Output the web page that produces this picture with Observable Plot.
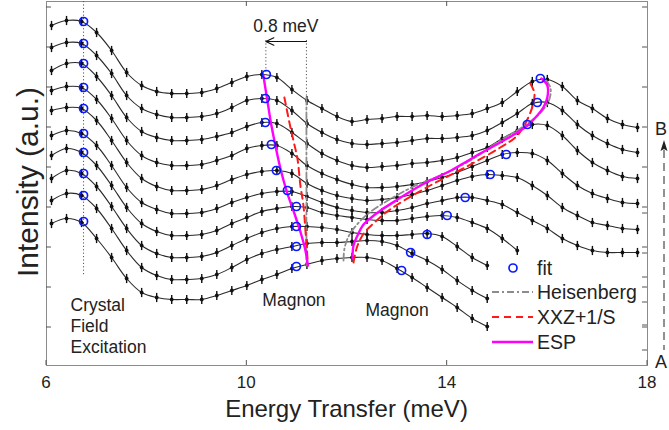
<!DOCTYPE html>
<html><head><meta charset="utf-8">
<script src="https://cdn.jsdelivr.net/npm/d3@7"></script>
<script src="https://cdn.jsdelivr.net/npm/@observablehq/plot@0.6"></script>
<style>
body{margin:0;background:#fff;}
#chart svg{display:block;}
</style></head><body><div id="chart"></div>
<script>
// Energy grid of the scans (meV)
const energy = [6.1,6.4,6.7,7.0,7.3,7.6,7.9,8.2,8.5,8.8,9.1,9.4,9.7,10.0,10.3,10.6,10.9,11.2,11.5,11.8,12.1,12.4,12.7,13.0,13.3,13.6,13.9,14.2,14.5,14.8,15.1,15.4,15.7,16.0,16.3,16.6,16.9,17.2,17.5,17.8];

// Offset intensity scans (a.u.), top scan first
const scan0 = [342,347,346,335,317,295,282,276,274,274,275,279,285,291,293,290,278,267,259,251,246,248,249,251,251,252,251,252,254,259,265,276,286,288,281,267,259,249,243,240];
const scan1 = [320,325,324,312,294,272,259,253,250,250,251,254,260,267,269,267,257,244,235,228,224,223,224,225,227,229,229,230,232,237,245,254,264,265,257,243,232,224,218,215];
const scan2 = [297,304,304,291,272,250,236,230,227,227,228,231,235,241,245,244,235,224,214,207,202,200,201,202,204,205,207,210,215,220,229,237,243,242,232,217,205,197,191,189];
const scan3 = [277,281,280,268,249,227,212,205,202,202,203,207,212,219,222,222,214,202,194,188,183,180,180,181,183,186,190,195,201,207,213,215,214,207,194,182,174,169,165,164];
const scan4 = [257,260,259,247,227,205,189,181,177,177,178,182,188,193,196,197,194,184,177,172,169,167,168,170,173,177,182,187,191,193,192,190,182,172,160,152,145,142,139,138];
const scan5 = [232,237,234,222,202,180,165,158,154,154,155,159,165,170,174,176,176,171,165,160,157,155,155,157,160,164,167,170,170,167,163,155,147,139,129,122,117,115,115,115];
const scan6 = [212,219,215,202,182,160,144,136,132,132,133,137,144,150,156,159,161,160,155,152,150,148,147,147,149,151,152,150,145,139,129,117];
const scan7 = [189,197,194,181,161,139,122,114,110,110,111,115,122,129,135,139,141,141,140,138,135,133,132,132,133,134,131,121,110,102];
const scan8 = [167,174,172,159,139,117,100,92,88,88,89,93,100,108,114,118,121,124,125,125,126,127,126,122,114,107,98,87,77,69];
const scan9 = [144,149,145,129,110,89,75,70,68,68,68,72,77,82,88,93,99,103,107,109,110,110,107,99,90,80,70,60,49,41];

// Fitted peak positions
const cfEnergy = [6.74,6.74,6.74,6.74,6.74,6.74,6.74,6.74,6.74,6.74];
const cfFit = [346,324,304,280,259,234,215,194,172,146];
const m1Energy = [10.39,10.37,10.37,10.49,10.59,10.81,10.99,10.99,10.99,10.99];
const m1Fit = [293,269,245,223,197,177,161,141,121,101];
const m2Energy = [15.86,15.80,15.60,15.18,14.86,14.36,14.00,13.60,13.27,13.09];
const m2Fit = [289,265,243,213,193,170,152,133,115,97];

// Model dispersions
const heis1E = [11.19,11.19]; const heis1Y = [270,102];
const heis2E = [11.93,11.95,12.03,12.2,12.45,12.85,13.33,13.86,14.46,15.06,15.46,15.76,15.98,16.06,16.06,15.98];
const heis2Y = [107,119,131,143,155,168,181,192,207,227,239,250,262,272,280,287];
const xxz1E = [10.75,10.85,10.93,11.01,11.07,11.13,11.17,11.2,11.22];
const xxz1Y = [270,245,227,209,182,162,137,117,102];
const xxz2E = [12.13,12.21,12.35,12.55,12.75,13.01,13.66,14.32,15.06,15.40,15.60,15.72,15.74,15.66];
const xxz2Y = [105,122,135,145,154,163,182,199,220,232,248,264,275,284];
const esp1E = [10.33,10.41,10.48,10.57,10.68,10.81,10.95,11.08,11.17,11.22];
const esp1Y = [292,267,245,222,197,174,154,134,117,102];
const esp2E = [12.11,12.13,12.21,12.33,12.51,12.67,13.01,13.33,13.66,14.00,14.32,14.66,15.06,15.40,15.60,15.80,15.92,16.00,16.00,15.88];
const esp2Y = [109,122,132,143,151,157,168,178,187,195,204,214,225,235,242,252,260,270,282,289];

// Axis ticks
const xTicks = [6,10,14,18];
const xTicksTop = [10,14];
const yTicks = [40,80,120,160,200,240,280,320,360];
const yTicksRight2 = [154,114,90,65,42,17];

// 0.8 meV shift marker
const shiftFrom = 11.19, shiftTo = 10.38;

const scans = [scan0,scan1,scan2,scan3,scan4,scan5,scan6,scan7,scan8,scan9];
const rows = scans.flatMap((s,i)=>s.map((v,k)=>({e:energy[k], v, c:i})));
const fits = [
  ...cfEnergy.map((e,i)=>({e, v:cfFit[i]})),
  ...m1Energy.map((e,i)=>({e, v:m1Fit[i]})),
  ...m2Energy.map((e,i)=>({e, v:m2Fit[i]}))
];
const pts = (E,Y,g)=>E.map((e,i)=>({e, v:Y[i], g}));
const heis = [...pts(heis1E,heis1Y,0), ...pts(heis2E,heis2Y,1)];
const xxz = [...pts(xxz1E,xxz1Y,0), ...pts(xxz2E,xxz2Y,1)];
const esp = [...pts(esp1E,esp1Y,0), ...pts(esp2E,esp2Y,1)];

const vbar = {draw(ctx,size){const r=Math.sqrt(size/Math.PI); ctx.moveTo(0,-r); ctx.lineTo(0,r);}};
const FONT = '"Liberation Sans", Arial, Helvetica, sans-serif';
const TXT = "#222";

const chart = Plot.plot({
  width: 669, height: 430,
  marginLeft: 46, marginRight: 22, marginTop: 1, marginBottom: 65,
  x: {domain:[6,18], axis:null},
  y: {domain:[2,366], axis:null},
  style: {fontFamily: FONT, fontSize: "17px", color: TXT, background: "white", overflow: "visible"},
  marks: [
    Plot.frame({stroke:"#8a8a8a"}),
    Plot.ruleX([cfEnergy[0]], {y1: 366, y2: 92, stroke:"#555", strokeDasharray:"1.2,2.2", strokeWidth:1}),
    Plot.ruleX([shiftTo, shiftFrom], {y1: 327, y2: [293, 267], stroke:"#555", strokeDasharray:"1.2,2.2", strokeWidth:1}),
    Plot.line(rows, {x:"e", y:"v", z:"c", curve:"catmull-rom", stroke:"#2a2a2a", strokeWidth:1.1}),
    Plot.dot(rows, {x:"e", y:"v", symbol: vbar, r: 4.6, stroke:"#111", fill:"none", strokeWidth:1.4}),
    Plot.dot(rows, {x:"e", y:"v", r: 1.9, fill:"#111", stroke:"none"}),
    Plot.line(heis, {x:"e", y:"v", z:"g", curve:"catmull-rom", stroke:"#8c8c8c", strokeWidth:1.8, strokeDasharray:"7,3,2,3"}),
    Plot.line(xxz, {x:"e", y:"v", z:"g", curve:"catmull-rom", stroke:"#ff1a1a", strokeWidth:2, strokeDasharray:"7,5"}),
    Plot.line(esp, {x:"e", y:"v", z:"g", curve:"catmull-rom", stroke:"#ff00ff", strokeWidth:2.4}),
    Plot.dot(fits, {x:"e", y:"v", r:4, stroke:"#0a1aff", strokeWidth:1.7, fill:"none"}),
    Plot.arrow([{x1:shiftFrom, x2:shiftTo, y:326}], {x1:"x1", x2:"x2", y1:"y", y2:"y", stroke:"#111", strokeWidth:1.2, headLength:11, headAngle:50}),
    Plot.text(["0.8 meV"], {x:10.13, y:348, text:d=>d, textAnchor:"start", lineAnchor:"top", fontSize:17.5, fill:TXT}),
    Plot.text(["Crystal\nField\nExcitation"], {x:6.48, y:72, text:d=>d, textAnchor:"start", lineAnchor:"top", lineHeight:1.22, fontSize:17.5, fill:TXT}),
    Plot.text(["Magnon"], {x:10.31, y:74, text:d=>d, textAnchor:"start", lineAnchor:"top", fontSize:17.5, fill:TXT}),
    Plot.text(["Magnon"], {x:12.37, y:64, text:d=>d, textAnchor:"start", lineAnchor:"top", fontSize:17.5, fill:TXT})
  ]
});

const svg = d3.select(chart);
const xs = chart.scale("x").apply, ys = chart.scale("y").apply;
const L = xs(6), R = xs(18), B = ys(2), T = ys(366);
const g = svg.append("g").attr("stroke","#555").attr("stroke-width",1);
xTicks.forEach(t=>g.append("line").attr("x1",xs(t)).attr("x2",xs(t)).attr("y1",B).attr("y2",B-5));
xTicksTop.forEach(t=>g.append("line").attr("x1",xs(t)).attr("x2",xs(t)).attr("y1",T).attr("y2",T+5));
yTicks.forEach(t=>{
  g.append("line").attr("x1",L).attr("x2",L+5).attr("y1",ys(t)).attr("y2",ys(t));
  g.append("line").attr("x1",R).attr("x2",R-5).attr("y1",ys(t)).attr("y2",ys(t));
});
yTicksRight2.forEach(t=>g.append("line").attr("x1",R).attr("x2",R-5).attr("y1",ys(t)).attr("y2",ys(t)));

const tg = svg.append("g").attr("font-family",FONT).attr("fill",TXT);
xTicks.forEach(t=>tg.append("text").attr("x",xs(t)).attr("y",B+23).attr("text-anchor","middle").attr("font-size",17).text(String(t)));
tg.append("text").attr("x",(L+R)/2).attr("y",417).attr("text-anchor","middle").attr("font-size",24).text("Energy Transfer (meV)");
tg.append("text").attr("transform",`translate(38,${182}) rotate(-90)`).attr("text-anchor","middle").attr("font-size",30).text("Intensity (a.u.)");

// legend
const lg = svg.append("g").attr("font-family",FONT).attr("font-size",19.5).attr("fill",TXT).attr("text-anchor","start");
const items = [
  {label:"fit", y:268, kind:"circle"},
  {label:"Heisenberg", y:292, stroke:"#8c8c8c", dash:"7,3,2,3", w:1.8},
  {label:"XXZ+1/S", y:317, stroke:"#ff1a1a", dash:"7,5", w:2},
  {label:"ESP", y:342, stroke:"#ff00ff", dash:null, w:2.4}
];
items.forEach(it=>{
  if (it.kind==="circle") {
    lg.append("circle").attr("cx",513).attr("cy",it.y).attr("r",4).attr("fill","none").attr("stroke","#0a1aff").attr("stroke-width",1.7);
  } else {
    const ln = lg.append("line").attr("x1",492).attr("x2",533).attr("y1",it.y).attr("y2",it.y).attr("stroke",it.stroke).attr("stroke-width",it.w);
    if (it.dash) ln.attr("stroke-dasharray",it.dash);
  }
  lg.append("text").attr("x",537).attr("y",it.y+7).attr("text-anchor","start").text(it.label);
});

// A -> B path arrow at right
const ag = svg.append("g").attr("font-family",FONT).attr("fill",TXT).attr("text-anchor","start");
ag.append("text").attr("x",655).attr("y",135).attr("font-size",18).attr("text-anchor","start").text("B");
ag.append("text").attr("x",655).attr("y",368).attr("font-size",18).attr("text-anchor","start").text("A");
ag.append("line").attr("x1",664).attr("x2",664).attr("y1",150).attr("y2",350).attr("stroke","#222").attr("stroke-width",1).attr("stroke-dasharray","8,5");
ag.append("path").attr("d","M664,140 L660.5,151 L664,149 L667.5,151 Z").attr("fill","#222");

document.getElementById("chart").appendChild(chart);
</script>
</body></html>
